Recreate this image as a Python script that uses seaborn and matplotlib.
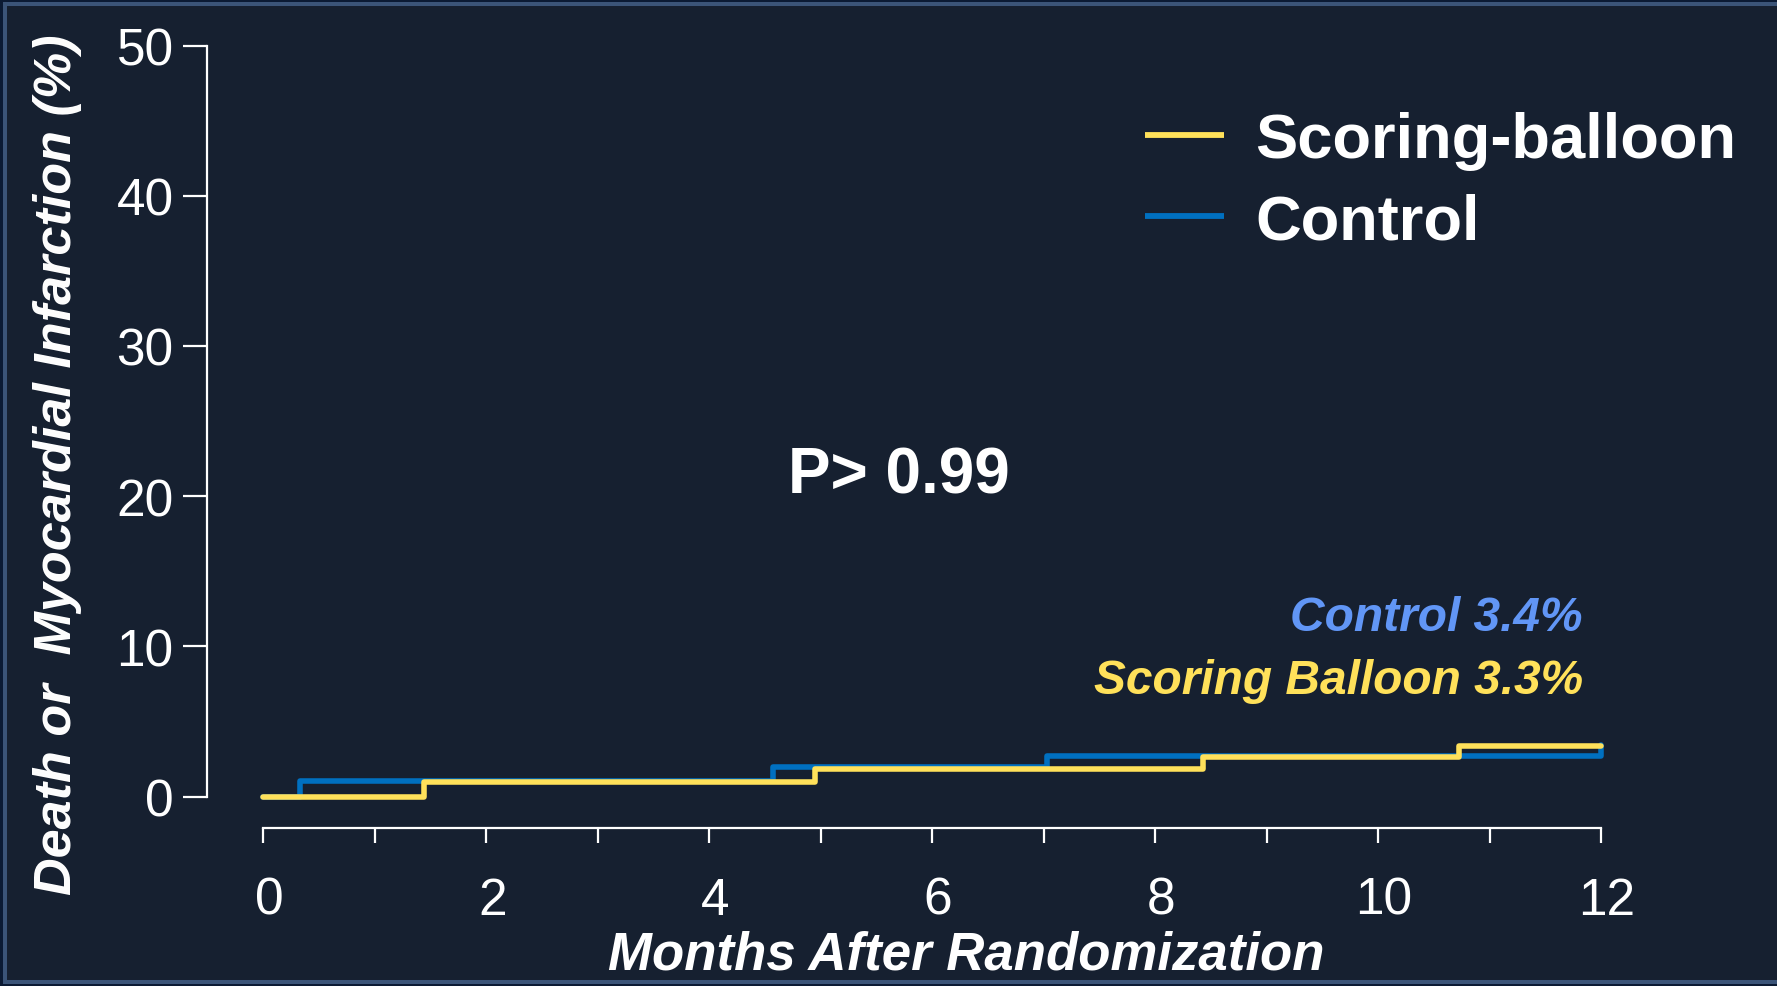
import numpy as np
import pandas as pd
import matplotlib
matplotlib.use("Agg")
import matplotlib.pyplot as plt
import matplotlib.transforms as mtransforms
from matplotlib.patches import Rectangle
import seaborn as sns

# ---- data ----
control_months = [0.0, 0.33, 4.57, 7.03, 12.0]
control_pct = [0.0, 1.05, 1.95, 2.70, 3.40]
balloon_months = [0.0, 1.44, 4.95, 8.43, 10.73, 12.0]
balloon_pct = [0.0, 0.95, 1.85, 2.60, 3.35, 3.35]
groups = ["Control", "Scoring-balloon"]
legend_order = ["Scoring-balloon", "Control"]
x_ticks_major = [0, 2, 4, 6, 8, 10, 12]
x_ticks_minor = [1, 3, 5, 7, 9, 11]
y_ticks = [0, 10, 20, 30, 40, 50]
p_text = "P> 0.99"
annot_control = "Control 3.4%"
annot_balloon = "Scoring Balloon 3.3%"

BG = "#162030"
OUTER = "#0B1A33"
FRAME = "#3B5478"
YELLOW = "#FFE15A"
BLUE = "#0070C0"
BLUE_TXT = "#6196F6"
YEL_TXT = "#FFE15A"

sns.set_style("ticks")
plt.rcParams["font.family"] = ["Liberation Sans", "DejaVu Sans"]

df = pd.concat([
    pd.DataFrame({"Months": control_months, "Pct": control_pct, "Group": groups[0]}),
    pd.DataFrame({"Months": balloon_months, "Pct": balloon_pct, "Group": groups[1]}),
], ignore_index=True)

W, H = 1777, 987
fig = plt.figure(figsize=(W / 100, H / 100), dpi=100, facecolor=OUTER)
fig.patches.append(Rectangle((5 / W, 4 / H), (W + 20) / W, (H - 9) / H,
                             transform=fig.transFigure, facecolor=BG,
                             edgecolor=FRAME, linewidth=2.9, zorder=-10))

ax = fig.add_axes([263.3 / W, (H - 797.5) / H, (1601 - 263.3) / W, (797.5 - 46.5) / H])
ax.set_facecolor("none")

sns.lineplot(data=df, x="Months", y="Pct", hue="Group", hue_order=groups,
             palette={"Control": BLUE, "Scoring-balloon": YELLOW},
             estimator=None, sort=False, drawstyle="steps-post",
             linewidth=4.0, solid_capstyle="round", solid_joinstyle="round",
             ax=ax, legend=True)
for ln in ax.lines:
    ln.set_clip_on(False)

ax.set_xlim(0, 12)
ax.set_ylim(0, 50)
ax.set_xlabel("")
ax.set_ylabel("")

for s in ["top", "right"]:
    ax.spines[s].set_visible(False)
ax.spines["left"].set_position(("outward", 40.5))
ax.spines["bottom"].set_position(("outward", 22.7))
ax.spines["left"].set_bounds(0, 50)
ax.spines["bottom"].set_bounds(0, 12)
for s in ["left", "bottom"]:
    ax.spines[s].set_color("white")
    ax.spines[s].set_linewidth(1.6)

ax.set_yticks(y_ticks)
ax.set_yticklabels([str(v) for v in y_ticks])
ax.set_xticks(x_ticks_major)
ax.set_xticklabels([str(v) for v in x_ticks_major])
ax.set_xticks(x_ticks_minor, minor=True)
ax.tick_params(axis="y", colors="white", length=17, width=1.6, pad=7, labelsize=37)
ax.tick_params(axis="x", which="both", colors="white", length=11, width=1.6)
ax.tick_params(axis="x", which="major", pad=23.5, labelsize=37)
for lab in ax.get_xticklabels():
    lab.set_transform(lab.get_transform() + mtransforms.ScaledTranslation(6 / 100, 0, fig.dpi_scale_trans))

# legend
handles, labels = ax.get_legend_handles_labels()
hmap = dict(zip(labels, handles))
leg = ax.legend([hmap[k] for k in legend_order], legend_order,
                loc="center left", bbox_to_anchor=(1145 / W, (H - 182.5) / H),
                bbox_transform=fig.transFigure, frameon=False,
                prop={"family": "Liberation Sans", "weight": "bold", "size": 45.5},
                handlelength=1.25, handletextpad=0.5, labelspacing=0.35,
                borderpad=0, borderaxespad=0)
for t in leg.get_texts():
    t.set_color("white")
for lh in leg.get_lines():
    lh.set_linewidth(4.2)
    lh.set_solid_capstyle("butt")

# texts
fig.text(58 / W, (H - 465) / H, "Death or  Myocardial Infarction (%)", rotation=90,
         ha="center", va="center", color="white", fontsize=37.5,
         fontweight="bold", fontstyle="italic")
fig.text(966 / W, (H - 956) / H, "Months After Randomization", ha="center", va="center",
         color="white", fontsize=38, fontweight="bold", fontstyle="italic")
fig.text(899 / W, (H - 476) / H, p_text, ha="center", va="center", color="white",
         fontsize=46, fontweight="bold")
fig.text(1583 / W, (H - 619) / H, annot_control, ha="right", va="center", color=BLUE_TXT,
         fontsize=34.5, fontweight="bold", fontstyle="italic")
fig.text(1583 / W, (H - 681) / H, annot_balloon, ha="right", va="center", color=YEL_TXT,
         fontsize=34.5, fontweight="bold", fontstyle="italic")

fig.savefig("out.png", dpi=100, facecolor=OUTER)
